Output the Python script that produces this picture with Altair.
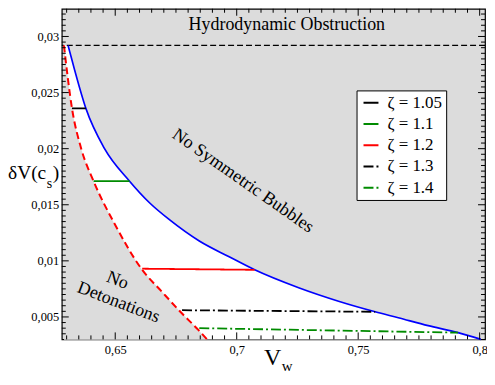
import altair as alt
import pandas as pd

# ---------------- data ----------------
# boundary of "No Symmetric Bubbles" region (blue solid)
blue_x = [0.6306, 0.6333, 0.6379, 0.6456, 0.6559, 0.6641, 0.6723, 0.6846, 0.6969, 0.7074,
          0.7255, 0.7419, 0.7570, 0.7665, 0.7788, 0.7911, 0.8005]
blue_y = [0.0292, 0.0270, 0.0236, 0.0200, 0.0171, 0.01518, 0.01367, 0.01177, 0.01036, 0.0092,
          0.0076, 0.0064, 0.00546, 0.00493, 0.00423, 0.0036, 0.0030]
# boundary of "No Detonations" region (red dashed)
red_x = [0.6289, 0.6322, 0.6360, 0.6411, 0.6500, 0.6611, 0.6694, 0.6768, 0.6844, 0.6878]
red_y = [0.0292, 0.0236, 0.0200, 0.0171, 0.0132, 0.0092, 0.0072, 0.00546, 0.0038, 0.0030]
# hydrodynamic obstruction level (black dashed)
obstruction_y = [0.0292]

# zeta segments
zeta_labels = ["ζ = 1.05", "ζ = 1.1", "ζ = 1.2", "ζ = 1.3", "ζ = 1.4"]
seg_x1 = [0.6322, 0.6411, 0.6611, 0.6775, 0.6846]
seg_x2 = [0.6379, 0.6559, 0.7074, 0.7570, 0.7911]
seg_y1 = [0.0236, 0.0171, 0.0093, 0.0056, 0.0040]
seg_y2 = [0.0236, 0.0171, 0.0092, 0.00546, 0.0036]
zeta_colors = ["#000000", "#008b00", "#ff0000", "#000000", "#008b00"]
zeta_dashes = [[1, 0], [1, 0], [1, 0], [10, 3, 2, 3], [10, 3, 2, 3]]

# ticks
x_major = [0.65, 0.7, 0.75, 0.8]
y_major = [0.005, 0.01, 0.015, 0.02, 0.025, 0.03]
x_minor = [round(0.630 + 0.005 * i, 3) for i in range(35)]
x_minor = [v for v in x_minor if v not in x_major]
y_minor = [round(0.0035 + 0.0005 * i, 4) for i in range(58)]
y_minor = [v for v in y_minor if v not in y_major]

region_labels = ["Hydrodynamic Obstruction", "No Symmetric Bubbles", "No", "Detonations"]

# ---------------- layout ----------------
W, H = 425, 332
X_DOMAIN = [0.628, 0.8022]
Y_DOMAIN = [0.003, 0.03247]
SERIF = "Liberation Serif"
GRAY = "#dcdcdc"

xs = alt.Scale(domain=X_DOMAIN, nice=False, zero=False)
ys = alt.Scale(domain=Y_DOMAIN, nice=False, zero=False)
lab = "replace(toString(datum.value), '.', ',')"
xaxis = alt.Axis(values=x_major, labelExpr=lab, title=None, ticks=False, tickSize=0,
                 domain=False, grid=False, labelPadding=4, labelFont=SERIF,
                 labelFontSize=12.5, labelColor="black", labelFontWeight="normal")
yaxis = alt.Axis(values=y_major, labelExpr=lab, title=None, ticks=False, tickSize=0,
                 domain=False, grid=False, labelPadding=3, labelFont=SERIF,
                 labelFontSize=12.5, labelColor="black", labelFontWeight="normal")


def X(f):
    return alt.X(f, type="quantitative", scale=xs, axis=xaxis)


def Y(f):
    return alt.Y(f, type="quantitative", scale=ys, axis=yaxis)


# white allowed region (under the blue curve, topped by the obstruction line)
white_df = pd.DataFrame({"x": [red_x[0]] + blue_x, "y": [red_y[0]] + blue_y})
white = alt.Chart(white_df).mark_area(color="white", interpolate="monotone").encode(
    x=X("x"), y=Y("y"), y2=alt.datum(Y_DOMAIN[0])
)
red_df = pd.DataFrame({"x": red_x, "y": red_y})
gray_red = alt.Chart(red_df).mark_area(color=GRAY, interpolate="monotone").encode(
    x=X("x"), y=Y("y"), y2=alt.datum(Y_DOMAIN[0])
)

obst = alt.Chart(pd.DataFrame({"y": obstruction_y})).mark_rule(
    color="black", strokeWidth=1.3, strokeDash=[6, 3]
).encode(y=Y("y"))

red_line = alt.Chart(red_df).mark_line(
    color="#ff0000", strokeWidth=2, strokeDash=[7, 4], interpolate="monotone"
).encode(x=X("x"), y=Y("y"))

blue_df = pd.DataFrame({"x": blue_x, "y": blue_y})
blue_line = alt.Chart(blue_df).mark_line(
    color="#0000ff", strokeWidth=1.7, interpolate="monotone"
).encode(x=X("x"), y=Y("y"))

seg_df = pd.DataFrame({"z": zeta_labels, "x1": seg_x1, "x2": seg_x2, "y1": seg_y1, "y2": seg_y2})
leg = alt.Legend(
    title=None, orient="none", legendX=296, legendY=82, strokeColor="black",
    fillColor="white", padding=4, symbolOffset=2, labelFont=SERIF, labelFontSize=17,
    labelColor="black", rowPadding=3.3, labelOffset=8, symbolType="stroke",
    symbolStrokeWidth=2, symbolSize=225, cornerRadius=0,
)
segs = alt.Chart(seg_df).mark_rule(strokeWidth=1.8).encode(
    x=X("x1"), x2="x2", y=Y("y1"), y2="y2",
    color=alt.Color("z:N", scale=alt.Scale(domain=zeta_labels, range=zeta_colors), legend=leg),
    strokeDash=alt.StrokeDash("z:N", scale=alt.Scale(domain=zeta_labels, range=zeta_dashes), legend=leg),
)


def xticks(vals, y0, y1):
    return alt.Chart(pd.DataFrame({"v": vals})).mark_rule(color="black", strokeWidth=1).encode(
        x=X("v"), y=alt.value(y0), y2=alt.value(y1))


def yticks(vals, x0, x1):
    return alt.Chart(pd.DataFrame({"v": vals})).mark_rule(color="black", strokeWidth=1).encode(
        y=Y("v"), x=alt.value(x0), x2=alt.value(x1))


ticks = [
    xticks(x_major, H, H - 7), xticks(x_minor, H, H - 4),
    xticks(x_major, 0, 7), xticks(x_minor, 0, 4),
    yticks(y_major, 0, 7), yticks(y_minor, 0, 4),
    yticks(y_major, W, W - 7), yticks(y_minor, W, W - 4),
]


def txt(s, x, y, size, angle=0, align="center", baseline="alphabetic"):
    return alt.Chart(pd.DataFrame({"t": [s]})).mark_text(
        font=SERIF, fontSize=size, angle=angle, align=align, baseline=baseline, color="black"
    ).encode(text="t:N", x=alt.value(x), y=alt.value(y))


texts = [
    txt(region_labels[0], 226, 21, 18),
    txt(region_labels[1], 182, 173, 18, angle=35, baseline="middle"),
    txt(region_labels[2], 56, 273, 18, angle=21, baseline="middle"),
    txt(region_labels[3], 57, 295, 18, angle=21, baseline="middle"),
    # y title  δV(c_s)
    txt("δV(c", -54, 171, 19.5, align="left"),
    txt("s", -15, 180, 14, align="left"),
    txt(")", -9, 171, 19.5, align="left"),
    # x title  V_w
    txt("V", 203, 358, 24, align="left"),
    txt("w", 221, 364, 15, align="left"),
]

chart = alt.layer(white, gray_red, obst, red_line, blue_line, segs, *ticks, *texts).properties(
    width=W, height=H,
    autosize=alt.AutoSizeParams(type="none"),
    padding={"left": 54, "top": 0, "right": 2, "bottom": 34},
).configure_view(fill=GRAY, stroke="black", strokeWidth=1.2)

chart.save("out.html", embed_options={"renderer": "svg", "actions": False})
